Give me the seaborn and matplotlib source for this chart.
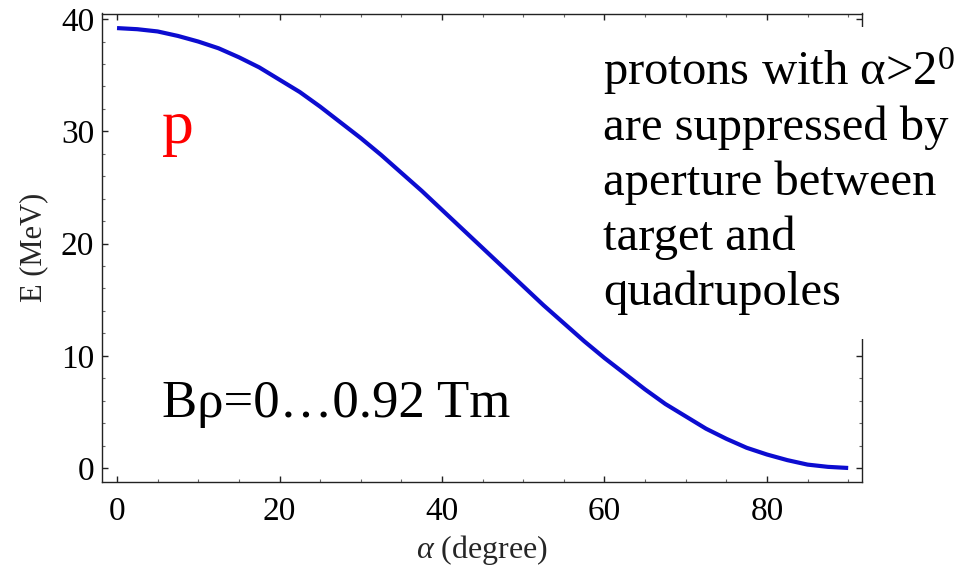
import matplotlib
matplotlib.use("Agg")
import matplotlib.pyplot as plt
from matplotlib.patches import Rectangle
from matplotlib.ticker import MultipleLocator
import pandas as pd
import seaborn as sns

# Proton energy versus emission angle
alpha_deg = [0, 2.5, 5, 7.5, 10, 12.5, 15, 17.5, 20, 22.5, 25, 27.5, 30, 32.5,
             35, 37.5, 40, 42.5, 45, 47.5, 50, 52.5, 55, 57.5, 60, 62.5, 65,
             67.5, 70, 72.5, 75, 77.5, 80, 82.5, 85, 87.5, 90]
energy_mev = [39.2, 39.1, 38.9, 38.5, 38.0, 37.4, 36.6, 35.7, 34.6, 33.5, 32.2,
              30.8, 29.4, 27.9, 26.3, 24.7, 23.0, 21.3, 19.6, 17.9, 16.2, 14.5,
              12.9, 11.3, 9.8, 8.4, 7.0, 5.7, 4.6, 3.5, 2.6, 1.8, 1.2, 0.7, 0.3,
              0.1, 0.0]
x_ticks = [0, 20, 40, 60, 80]
y_ticks = [0, 10, 20, 30, 40]

note_lines = ["protons with \u03b1>2$^{0}$",
              "are suppressed by",
              "aperture between",
              "target and",
              "quadrupoles"]

sns.set_style("ticks")
plt.rcParams["font.family"] = ["Liberation Serif", "DejaVu Serif"]
plt.rcParams["mathtext.fontset"] = "custom"
plt.rcParams["mathtext.rm"] = "Liberation Serif"
plt.rcParams["mathtext.it"] = "Liberation Serif:italic"

W, H = 963, 571
fig = plt.figure(figsize=(W / 100, H / 100), dpi=100)
fig.patch.set_facecolor("white")
ax = fig.add_axes([102 / W, 1 - 482 / H, (862 - 102) / W, (482 - 13.5) / H])
ax.set_facecolor("white")

df = pd.DataFrame({"alpha": alpha_deg, "E": energy_mev})
sns.lineplot(data=df, x="alpha", y="E", ax=ax, color="#0c0cd0",
             linewidth=3.0, solid_capstyle="butt", solid_joinstyle="round")

ax.set_xlim(-1.85, 91.7)
ax.set_ylim(-1.25, 40.5)
ax.set_xticks(x_ticks)
ax.set_yticks(y_ticks)
ax.xaxis.set_minor_locator(MultipleLocator(5))
ax.yaxis.set_minor_locator(MultipleLocator(2))

frame_color = "#222222"
for side in ["left", "right", "top", "bottom"]:
    ax.spines[side].set_visible(True)
    ax.spines[side].set_color(frame_color)
    ax.spines[side].set_linewidth(1.0)

ax.tick_params(which="both", direction="in", top=True, right=True,
               color=frame_color)
ax.tick_params(which="major", length=4, width=1.0, labelsize=24,
               labelcolor="black")
ax.tick_params(which="minor", length=2.5, width=0.8, color="#666666")
ax.tick_params(axis="x", which="major", pad=10.5)
ax.tick_params(axis="y", which="major", pad=5.5)

ax.set_xlabel(r"$\alpha$ (degree)", fontsize=23, labelpad=4)
ax.set_ylabel("E (MeV)", fontsize=22, labelpad=9)


def fx(px):
    return px / W


def fy(py):
    return 1 - py / H


# white panel behind the explanatory note on the right
fig.add_artist(Rectangle((fx(590), fy(339)), (W - 590) / W, (339 - 27) / H,
                         transform=fig.transFigure, facecolor="white",
                         edgecolor="none", zorder=5))

fig.text(fx(162), fy(143), "p", color="red", fontsize=46,
         ha="left", va="baseline", zorder=6)
fig.text(fx(162), fy(417), "B\u03c1=0\u20260.92 Tm", color="black",
         fontsize=38, ha="left", va="baseline", zorder=6)

baselines = [85, 140, 195, 250, 305]
for line, base in zip(note_lines, baselines):
    fig.text(fx(603), fy(base), line, color="black", fontsize=35,
             ha="left", va="baseline", zorder=6)

fig.savefig("out.png", dpi=100)
